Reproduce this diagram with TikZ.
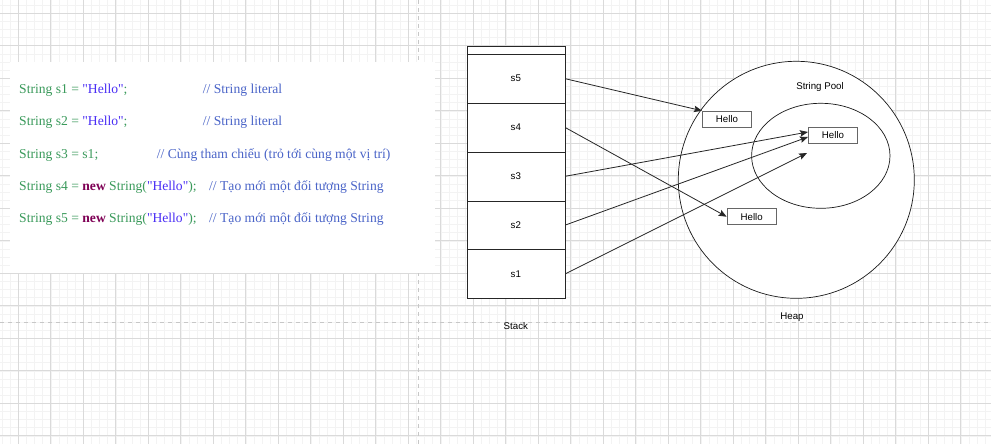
\documentclass[tikz,border=0pt]{standalone}
\usepackage{fontspec}
\setmainfont{Liberation Serif}[Ligatures=TeXOff]
\setsansfont{Liberation Sans}
\usetikzlibrary{shapes.geometric, arrows.meta}

\definecolor{codegreen}{HTML}{3A9A5B}
\definecolor{codestring}{HTML}{4A2EF5}
\definecolor{codenote}{HTML}{4A64C8}
\definecolor{codekey}{HTML}{7F0055}
\definecolor{gridminor}{HTML}{F3F3F3}
\definecolor{gridmajor}{HTML}{DADADA}
\newcommand\hello{\symbol{34}Hello\symbol{34}}

\begin{document}
\begin{tikzpicture}[x=1pt, y=-1pt,
code line/.style = {anchor=west, inner sep=0pt, text height=9.5pt, text depth=3pt,
  font=\fontsize{13.6}{16}\selectfont},
stack cell/.style = {draw=black!85, fill=white, minimum width=98.3pt,
  minimum height=48.8pt, inner sep=0pt, font=\sffamily\fontsize{9.7}{11}\selectfont},
value box/.style = {draw=black!60, line width=1.1pt, fill=white, minimum width=49pt,
  minimum height=16pt, inner sep=0pt, font=\sffamily\fontsize{9.7}{11}\selectfont},
region/.style = {ellipse, draw=black!90, line width=0.7pt, fill=white, inner sep=0pt},
caption/.style = {inner sep=0pt, font=\sffamily\fontsize{9.7}{11}\selectfont},
ref arrow/.style = {-{Stealth[length=8pt, width=6.5pt, inset=1.5pt]}, black!85, line width=0.8pt}
]

\useasboundingbox (0,0) rectangle (991,444);
\fill[white] (0,0) rectangle (991,444);

% background grid
\foreach \i in {-2,...,122}
  \draw[gridminor, line width=0.6pt] ({18.3+8.125*\i},0) -- ({18.3+8.125*\i},444);
\foreach \j in {-1,...,53}
  \draw[gridminor, line width=0.6pt] (0,{13.3+8.125*\j}) -- (991,{13.3+8.125*\j});
\foreach \i in {0,...,30}
  \draw[gridmajor, line width=0.7pt] ({18.3+32.5*\i},0) -- ({18.3+32.5*\i},444);
\foreach \j in {0,...,13}
  \draw[gridmajor, line width=0.7pt] (0,{13.3+32.5*\j}) -- (991,{13.3+32.5*\j});
\draw[black!22, line width=0.8pt, dash pattern=on 4pt off 4pt] (418,0) -- (418,444);
\draw[black!22, line width=0.8pt, dash pattern=on 4pt off 4pt] (0,322) -- (991,322);

% code panel
\fill[white] (10,62) rectangle (435,273);

\node (code1) at (19,90) [code line] {\textcolor{codegreen}{String s1 =} \textcolor{codestring}{\hello}\textcolor{codegreen}{;}};
\node (code2) at (19,122) [code line] {\textcolor{codegreen}{String s2 =} \textcolor{codestring}{\hello}\textcolor{codegreen}{;}};
\node (code3) at (19,155) [code line] {\textcolor{codegreen}{String s3 = s1;}};
\node (code4) at (19,187) [code line] {\textcolor{codegreen}{String s4 =} \textcolor{codekey}{\bfseries new} \textcolor{codegreen}{String(}\textcolor{codestring}{\hello}\textcolor{codegreen}{);}};
\node (code5) at (19,219) [code line] {\textcolor{codegreen}{String s5 =} \textcolor{codekey}{\bfseries new} \textcolor{codegreen}{String(}\textcolor{codestring}{\hello}\textcolor{codegreen}{);}};

\node (note1) at (202.7,90) [code line, text=codenote] {// String literal};
\node (note2) at (202.7,122) [code line, text=codenote] {// String literal};
\node (note3) at (156.7,155) [code line, text=codenote] {// Cùng tham chiếu (trỏ tới cùng một vị trí)};
\node (note4) at (209,187) [code line, text=codenote] {// Tạo mới một đối tượng String};
\node (note5) at (209,219) [code line, text=codenote] {// Tạo mới một đối tượng String};

% stack
\node (top) at (515.85,50.15) [stack cell, minimum height=8.3pt] {};
\node (s5) at (515.85,78.7) [stack cell] {s5};
\node (s4) at (515.85,127.5) [stack cell] {s4};
\node (s3) at (515.85,176.3) [stack cell] {s3};
\node (s2) at (515.85,225.1) [stack cell] {s2};
\node (s1) at (515.85,273.9) [stack cell] {s1};
\node (stack) at (515.85,326) [caption] {Stack};

% heap
\node (heap) at (796.3,179.8) [region, minimum width=236pt, minimum height=237pt] {};
\node (pool) at (820.8,155.8) [region, minimum width=138.4pt, minimum height=105pt] {};
\node (pool label) at (820,86.7) [caption] {String Pool};
\node (heap label) at (792,317) [caption] {Heap};

\node (hello1) at (727,119.3) [value box] {Hello};
\node (hello2) at (833,135.5) [value box] {Hello};
\node (hello3) at (751.7,216.7) [value box] {Hello};
\coordinate (s1end) at (807,153);

\draw[ref arrow] (s5.east) -- (hello1.north west);
\draw[ref arrow] (s4.east) -- (hello3.west);
\draw[ref arrow] (s3.east) -- ([yshift=3.5pt]hello2.west);
\draw[ref arrow] (s2.east) -- ([yshift=-1.5pt]hello2.west);
\draw[ref arrow] (s1.east) -- (s1end);
\end{tikzpicture}
\end{document}
